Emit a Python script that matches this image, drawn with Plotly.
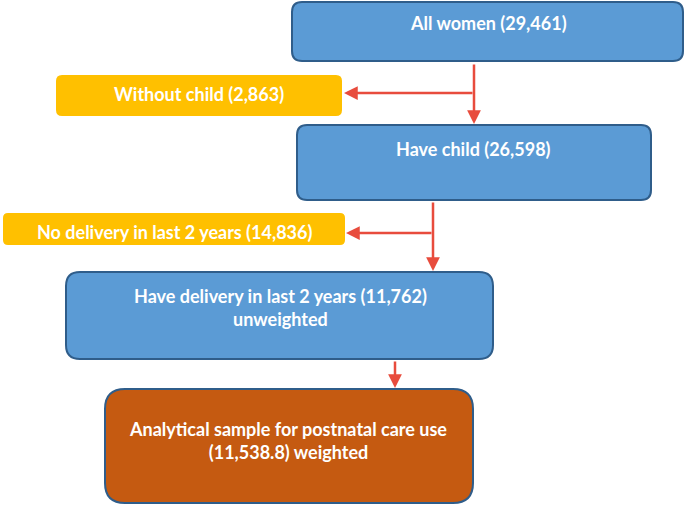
import plotly.graph_objects as go

# ---- data ----
stage_labels = ["All women", "Without child", "Have child",
                "No delivery in last 2 years", "Have delivery in last 2 years",
                "Analytical sample for postnatal care use"]
stage_counts = ["29,461", "2,863", "26,598", "14,836", "11,762", "11,538.8"]
stage_notes = ["", "", "", "", "unweighted", "weighted"]

W, H = 685, 505
BLUE, YELLOW, ORANGE = "#5B9BD5", "#FFC000", "#C55A11"
EDGE = "#2F5D8A"
RED = "#E84C3D"

# box geometry: x0, y0, x1, y1, radius, fill, border
boxes = [
    (292, 2, 683, 61, 10, BLUE, EDGE),
    (56, 75, 342, 116, 6, YELLOW, None),
    (297, 125, 651, 200, 10, BLUE, EDGE),
    (3, 213, 345, 245, 5, YELLOW, None),
    (66, 272, 493, 359, 14, BLUE, EDGE),
    (105, 389, 473, 503, 20, ORANGE, EDGE),
]
# text anchor (x, y)
text_pos = [(488, 23), (199, 94), (473, 149), (174, 232), (280, 307), (288, 440)]


def rrect(x0, y0, x1, y1, r):
    return (f"M{x0+r},{y0} L{x1-r},{y0} Q{x1},{y0} {x1},{y0+r} "
            f"L{x1},{y1-r} Q{x1},{y1} {x1-r},{y1} L{x0+r},{y1} "
            f"Q{x0},{y1} {x0},{y1-r} L{x0},{y0+r} Q{x0},{y0} {x0+r},{y0} Z")


fig = go.Figure()
shapes = []
annotations = []
for i, (x0, y0, x1, y1, r, fill, edge) in enumerate(boxes):
    shapes.append(dict(type="path", path=rrect(x0, y0, x1, y1, r), xref="x", yref="y",
                       fillcolor=fill,
                       line=dict(color=edge if edge else fill, width=2 if edge else 0),
                       layer="below"))
    lab = stage_labels[i]
    cnt = stage_counts[i]
    if i == 4:
        txt = f"<b>{lab} ({cnt})<br>{stage_notes[i]}</b>"
    elif i == 5:
        txt = f"<b>{lab}<br>({cnt}) {stage_notes[i]}</b>"
    else:
        txt = f"<b>{lab} ({cnt})</b>"
    tx, ty = text_pos[i]
    annotations.append(dict(x=tx, y=ty, xref="x", yref="y", text=txt, showarrow=False,
                            font=dict(family="Lato", size=18, color="white"),
                            align="center"))

# connector lines and arrows: (x_from, y_from, x_to, y_to)
arrows = [
    (474, 63, 474, 124),
    (474, 93, 344, 93),
    (433, 201, 433, 271),
    (433, 233, 346, 233),
    (395, 360, 395, 388),
]
for ax_, ay_, x_, y_ in arrows:
    annotations.append(dict(x=x_, y=y_, ax=ax_, ay=ay_, xref="x", yref="y",
                            axref="x", ayref="y", showarrow=True, text="",
                            arrowhead=2, arrowsize=1.1, arrowwidth=2.5,
                            arrowcolor=RED, standoff=0, startstandoff=0))

fig.update_layout(
    width=W, height=H,
    margin=dict(l=0, r=0, t=0, b=0),
    paper_bgcolor="white", plot_bgcolor="white",
    xaxis=dict(range=[0, W], visible=False, fixedrange=True),
    yaxis=dict(range=[H, 0], visible=False, fixedrange=True),
    shapes=shapes, annotations=annotations, showlegend=False,
)
fig.write_html("out.html", config={"displayModeBar": False},
               post_script="document.body.style.margin='0px';document.body.style.overflow='hidden';")
